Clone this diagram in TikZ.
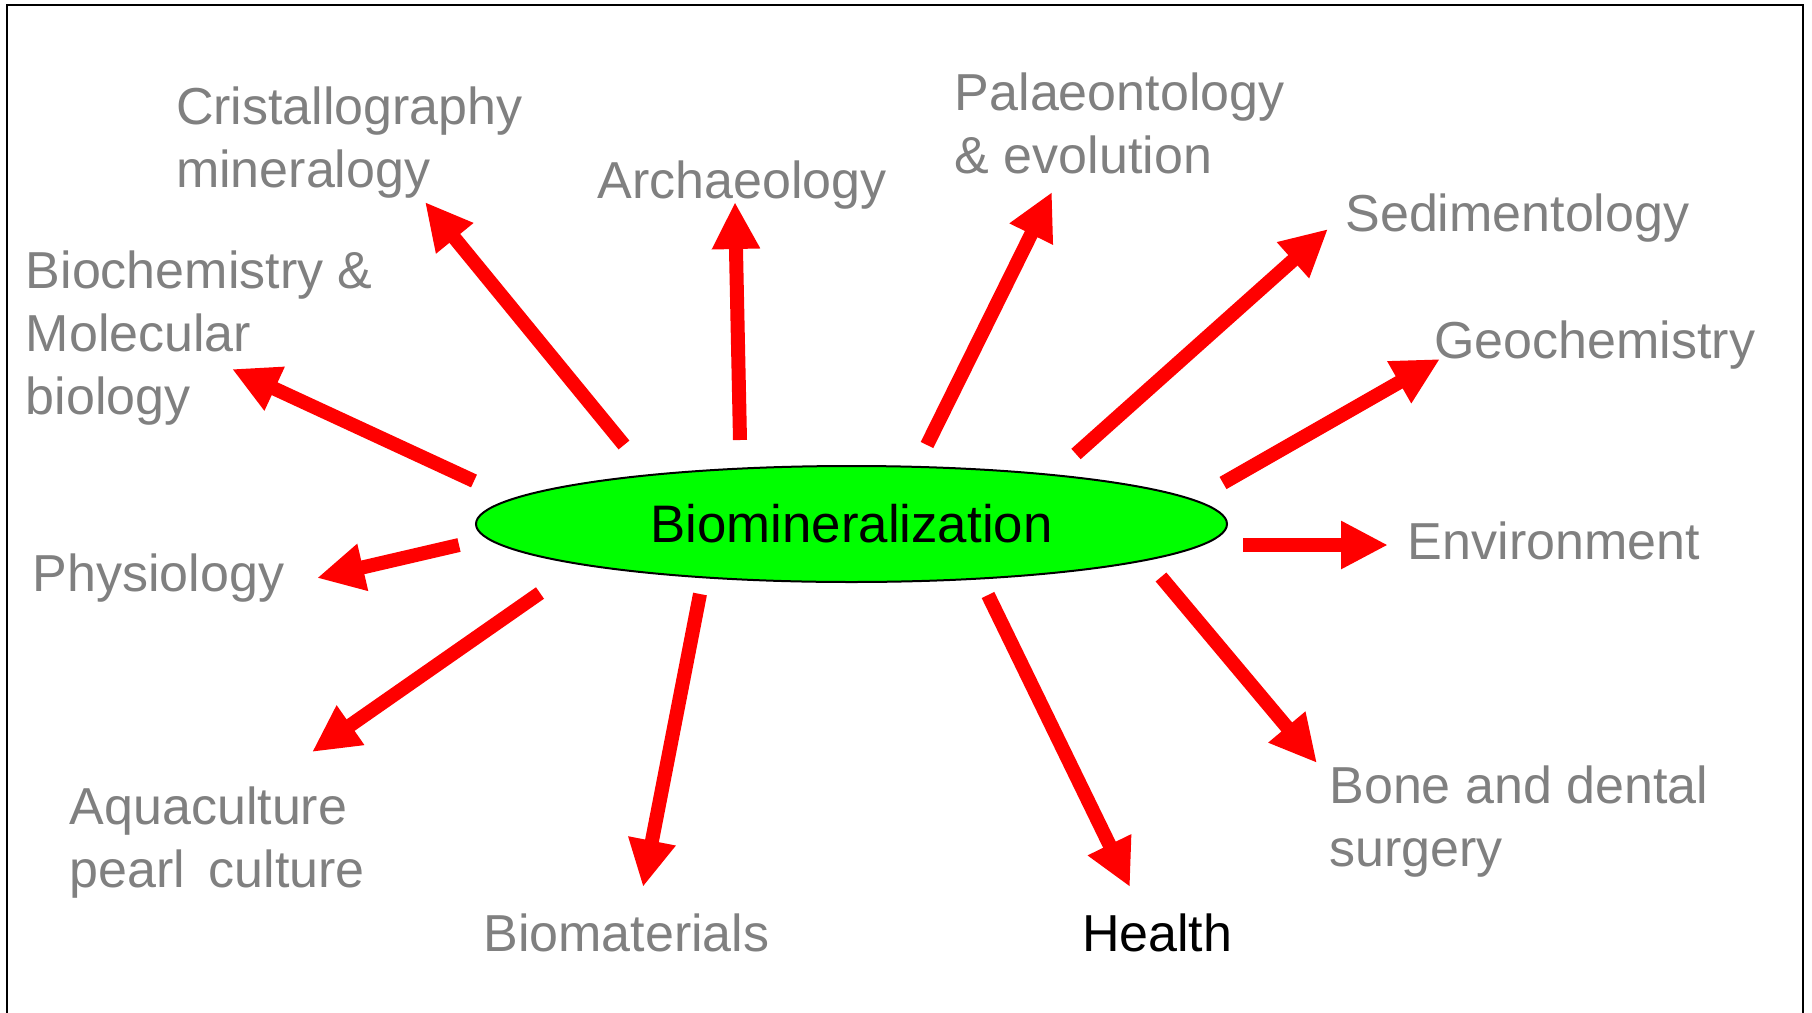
\documentclass[tikz,border=0pt]{standalone}
\usepackage{fontspec}
\setmainfont{Liberation Sans}
\usetikzlibrary{arrows.meta,shapes.geometric}
\definecolor{lbl}{RGB}{128,128,128}
\definecolor{bioGreen}{RGB}{0,255,0}
\definecolor{arrRed}{RGB}{255,0,0}
\tikzset{
  lab/.style={anchor=base west, inner sep=0pt, text=lbl, align=left,
    font=\fontsize{26pt}{31.5pt}\selectfont},
  arr/.style={draw=arrRed, line width=7pt,
    -{Triangle[length=23.5pt,width=22.5pt]}},
  hub/.style={ellipse, draw=black, line width=1pt, fill=bioGreen,
    minimum width=375.5pt, minimum height=58pt, inner sep=0pt,
    font=\fontsize{26.4pt}{31.5pt}\selectfont}
}
\begin{document}
\begin{tikzpicture}[x=0.5pt,y=-0.5pt]
\useasboundingbox (0,0) rectangle (1812,1013);
\fill[white] (0,0) rectangle (1812,1013);
\draw[line width=1.25pt] (7,1020) -- (7,5) -- (1803,5) -- (1803,1020);

\node[hub] (bio) at (851.5,524) {Biomineralization};

% multi-line labels are placed at the baseline of their last line
\node[lab] (cri) at (175.6,187.2) {Cristallography\\mineralogy};
\node[lab] (arc) at (597.4,198.8) {Archaeology};
\node[lab] (pal) at (954.5,173.3) {Palaeontology\\\& evolution};
\node[lab] (sed) at (1345,231) {Sedimentology};
\node[lab] (geo) at (1434,358) {Geochemistry};
\node[lab] (bch) at (25.4,414.9) {Biochemistry \&\\Molecular\\biology};
\node[lab] (phy) at (32.4,591.7) {Physiology};
\node[lab] (env) at (1407.5,559) {Environment};
\node[lab] (aqu) at (69.3,887.5) {Aquaculture\\pearl\hspace{0.45em}culture};
\node[lab] (bmt) at (483,951) {Biomaterials};
\node[lab,text=black] (hea) at (1081.6,951) {Health};
\node[lab] (bon) at (1329,866.7) {Bone and dental\\surgery};

% arrow end points
\coordinate (s1) at (624,445);  \coordinate (t1) at (425,202);
\coordinate (s2) at (740,440);  \coordinate (t2) at (735,202);
\coordinate (s3) at (927,445);  \coordinate (t3) at (1052,192);
\coordinate (s4) at (1076,454); \coordinate (t4) at (1328,229);
\coordinate (s5) at (1223,483); \coordinate (t5) at (1440,359);
\coordinate (s6) at (1243,545); \coordinate (t6) at (1388,545);
\coordinate (s7) at (1161,577); \coordinate (t7) at (1317,763);
\coordinate (s8) at (988,595);  \coordinate (t8) at (1130,887);
\coordinate (s9) at (700,594);  \coordinate (t9) at (643,887);
\coordinate (s10) at (540,593); \coordinate (t10) at (312,752);
\coordinate (s11) at (459,545); \coordinate (t11) at (317,578);
\coordinate (s12) at (474,481); \coordinate (t12) at (232,369);

\foreach \i in {1,...,12} { \draw[arr] (s\i) -- (t\i); }
\end{tikzpicture}
\end{document}
